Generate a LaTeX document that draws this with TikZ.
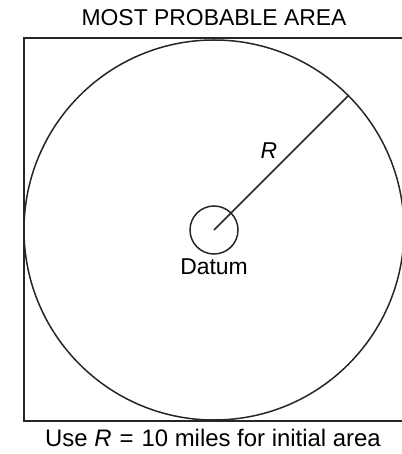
\documentclass[tikz,border=0pt]{standalone}
\usepackage{fontspec}
\setmainfont{Liberation Sans}
\usetikzlibrary{positioning,calc}

\tikzset{
  lbl/.style={font=\fontsize{23}{25}\selectfont, inner sep=1bp},
  outline/.style={line width=1.5bp, draw=black!85}
}

\begin{document}
\begin{tikzpicture}[x=1bp, y=-1bp]
    \useasboundingbox (0,0) rectangle (401,454);

    % search area box and radius circle
    \draw[outline] (24,38) rectangle (406,421);
    \node[circle, outline, minimum size=48bp, inner sep=0pt] (datum) at (214,230) {};
    \draw[outline] (datum.center) circle[radius=190];

    \coordinate (rim) at ($(datum.center)+(-45:190)$);
    \draw[outline] (datum.center) -- (rim);

    \node[lbl] (title) at (214,18) {MOST PROBABLE AREA};
    \node[lbl, font=\fontsize{23}{25}\selectfont\itshape] (rlab) at (269,151) {R};
    \node[lbl, below=3bp of datum] (dlab) {Datum};
    \node[lbl, font=\fontsize{24}{26}\selectfont] (note) at (213,438) {Use \textit{R}\,\,=\,\,10 miles for initial area};
\end{tikzpicture}
\end{document}
